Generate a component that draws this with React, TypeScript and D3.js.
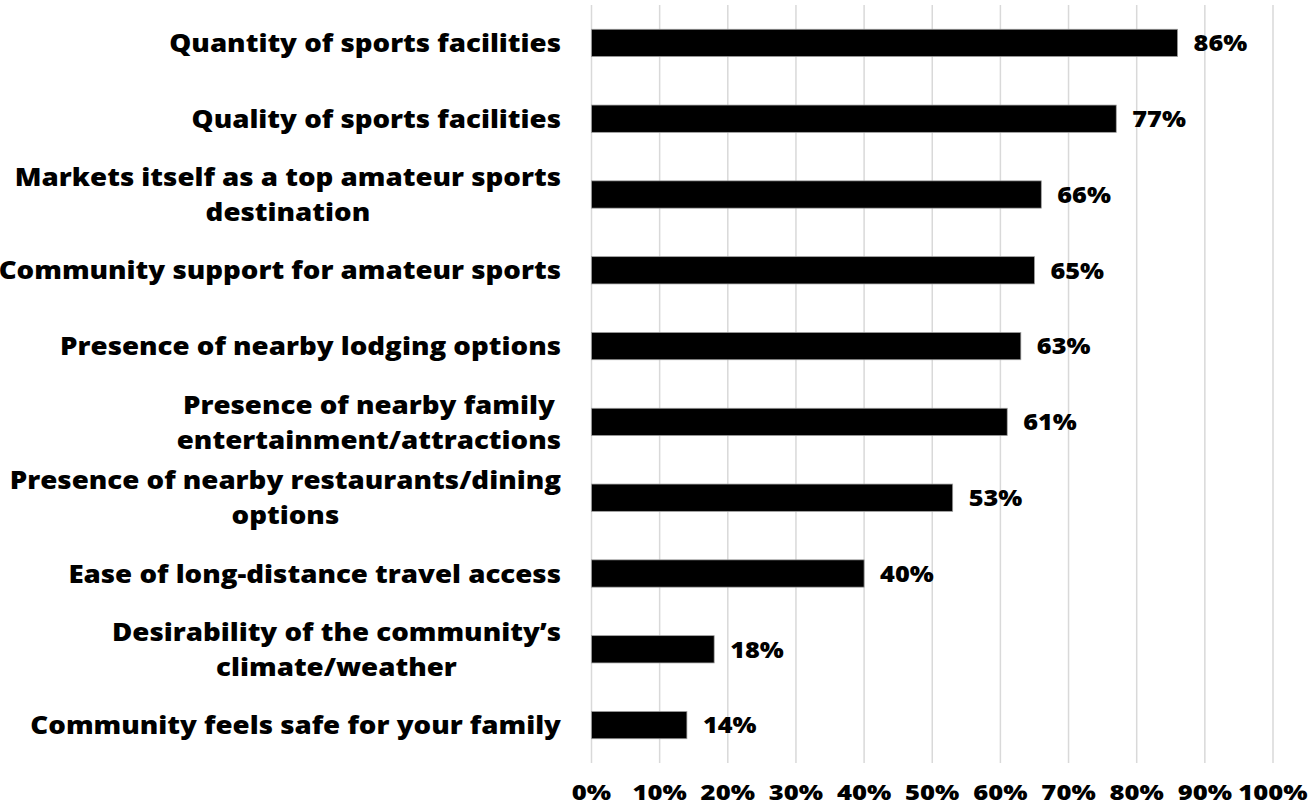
import React, { useEffect, useRef } from "react";
import * as d3 from "d3";

const categories: string[][] = [
  ["Quantity of sports facilities"],
  ["Quality of sports facilities"],
  ["Markets itself as a top amateur sports", "destination"],
  ["Community support for amateur sports"],
  ["Presence of nearby lodging options"],
  ["Presence of nearby family", "entertainment/attractions"],
  ["Presence of nearby restaurants/dining", "options"],
  ["Ease of long-distance travel access"],
  ["Desirability of the community\u2019s", "climate/weather"],
  ["Community feels safe for your family"],
];
const values: number[] = [86, 77, 66, 65, 63, 61, 53, 40, 18, 14];
const ticks: number[] = [0, 10, 20, 30, 40, 50, 60, 70, 80, 90, 100];

const W = 1312;
const H = 806;
const FONT = "'Open Sans', Lato, sans-serif";

type Sel = d3.Selection<SVGTextElement, unknown, null, undefined>;

function stretch(t: Sel, factor: number): number {
  const w = (t.node() as SVGTextElement).getComputedTextLength();
  const nw = w * factor;
  t.attr("textLength", nw).attr("lengthAdjust", "spacingAndGlyphs");
  return nw;
}

export default function App() {
  const ref = useRef<SVGSVGElement | null>(null);

  useEffect(() => {
    const svg = d3.select(ref.current);
    svg.selectAll("*").remove();

    const x = d3.scaleLinear().domain([0, 100]).range([591.5, 1273]);
    const y = d3
      .scaleBand<number>()
      .domain(d3.range(categories.length))
      .range([5, 763])
      .paddingInner(0.64)
      .paddingOuter(0.32);

    svg
      .append("g")
      .selectAll("line")
      .data(ticks)
      .join("line")
      .attr("x1", (d) => x(d))
      .attr("x2", (d) => x(d))
      .attr("y1", 5)
      .attr("y2", 763)
      .attr("stroke", "#d9d9d9")
      .attr("stroke-width", 1.5);

    svg
      .append("g")
      .selectAll("rect")
      .data(values)
      .join("rect")
      .attr("x", x(0))
      .attr("y", (_, i) => y(i)!)
      .attr("width", (d) => x(d) - x(0))
      .attr("height", y.bandwidth())
      .attr("fill", "#000")
      .attr("stroke", "#a0a0a0")
      .attr("stroke-width", 0.75);

    // value labels
    const vg = svg.append("g");
    values.forEach((v, i) => {
      const t = vg
        .append("text")
        .attr("x", x(v) + 16)
        .attr("y", y(i)! + y.bandwidth() / 2)
        .attr("dy", "0.36em")
        .attr("font-family", FONT)
        .attr("font-weight", 800)
        .attr("font-size", 23)
        .attr("fill", "#000")
        .text(`${v}%`) as unknown as Sel;
      stretch(t, 1.1);
    });

    // tick labels
    const tg = svg.append("g");
    ticks.forEach((d) => {
      const t = tg
        .append("text")
        .attr("y", 800)
        .attr("font-family", FONT)
        .attr("font-weight", 800)
        .attr("font-size", 21)
        .attr("fill", "#000")
        .text(`${d}%`) as unknown as Sel;
      const w = stretch(t, 1.22);
      t.attr("x", x(d) - w / 2);
    });

    // category labels
    const lineH = 35;
    const rightEdge = 561;
    const lg = svg.append("g");
    categories.forEach((lines, i) => {
      const cy = y(i)! + y.bandwidth() / 2;
      const g = lg.append("g");
      const items = lines.map((ln, k) => {
        const t = g
          .append("text")
          .attr("y", cy + (k - (lines.length - 1) / 2) * lineH)
          .attr("dy", "0.36em")
          .attr("font-family", FONT)
          .attr("font-weight", 800)
          .attr("font-size", 25.5)
          .attr("fill", "#000")
          .text(ln) as unknown as Sel;
        const w = stretch(t, 1.085);
        return { t, w };
      });
      const maxW = d3.max(items, (d) => d.w) || 0;
      const cx = rightEdge - maxW / 2;
      items.forEach(({ t, w }) => t.attr("x", cx - w / 2));
    });
  }, []);

  return (
    <svg
      ref={ref}
      width={W}
      height={H}
      style={{ position: "absolute", left: 0, top: 0, background: "#fff" }}
    />
  );
}
